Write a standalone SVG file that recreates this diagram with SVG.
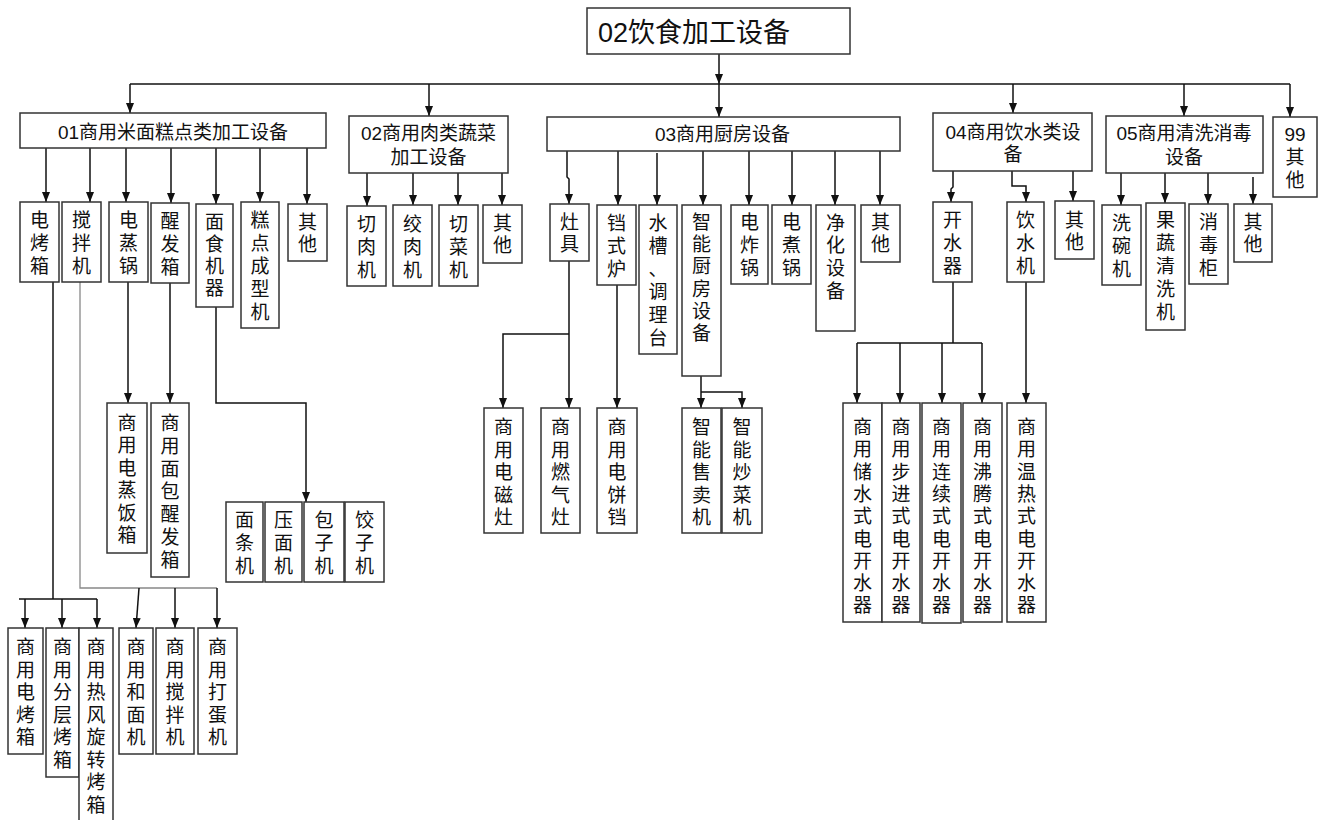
<svg xmlns="http://www.w3.org/2000/svg" width="1325" height="820" viewBox="0 0 1325 820">
<style>
.box{fill:#fff;stroke:#333;stroke-width:1.5}
.t{font-family:"Liberation Sans","Noto Sans CJK SC",sans-serif;font-size:19px;fill:#111;text-anchor:middle}
.root{font-family:"Liberation Sans","Noto Sans CJK SC",sans-serif;font-size:27px;fill:#111}
.ln{fill:none;stroke:#111;stroke-width:1.5}
.ar{fill:none;stroke:#111;stroke-width:1.5;marker-end:url(#ah)}
.gr{fill:none;stroke:#888;stroke-width:1.3}
</style>
<defs>
<marker id="ah" viewBox="0 0 10 8" refX="10" refY="4" markerWidth="10" markerHeight="8" markerUnits="userSpaceOnUse" orient="auto">
<path d="M0,0 L10,4 L0,8 z" fill="#111"/>
</marker>
</defs>
<rect width="1325" height="820" fill="#fff"/>

<g id="connectors">
<path class="ar" d="M719,54 V84"/>
<path class="ln" d="M130,84 H1290"/>
<path class="ar" d="M130,84 V113"/>
<path class="ar" d="M429,84 V116"/>
<path class="ar" d="M719,84 V117"/>
<path class="ar" d="M1013,84 V113"/>
<path class="ar" d="M1184,84 V116"/>
<path class="ar" d="M1290,84 V117"/>
<!-- 01 children -->
<path class="ar" d="M46,148 V202"/>
<path class="ar" d="M90,148 V202"/>
<path class="ar" d="M126,148 V202"/>
<path class="ar" d="M171,148 V203"/>
<path class="ar" d="M216,148 V204"/>
<path class="ar" d="M260,148 V202"/>
<path class="ar" d="M307,148 V204"/>
<!-- 02 children -->
<path class="ar" d="M367,173 V206"/>
<path class="ar" d="M413,173 V205"/>
<path class="ar" d="M458,173 V205"/>
<path class="ar" d="M502,171 V205"/>
<!-- 03 children -->
<path class="ar" d="M567,151 V177 L569,179 V204"/>
<path class="ar" d="M618,151 V205"/>
<path class="ar" d="M657,153 V205"/>
<path class="ar" d="M703,151 V205"/>
<path class="ar" d="M749,151 V205"/>
<path class="ar" d="M792,151 V205"/>
<path class="ar" d="M835,151 V205"/>
<path class="ar" d="M880,151 V205"/>
<!-- 04 children -->
<path class="ar" d="M953,171 V187 L951,189 V202"/>
<path class="ar" d="M1012,171 V186 H1026 V202"/>
<path class="ar" d="M1073,148 V201"/>
<!-- 05 children -->
<path class="ar" d="M1121,173 V205"/>
<path class="ar" d="M1165,173 V203"/>
<path class="ar" d="M1208,173 V204"/>
<path class="ar" d="M1253,177 V204"/>
<!-- 01 grandchildren -->
<path class="ln" d="M53,282 V599"/>
<path class="ln" d="M19,599 H97"/>
<path class="ar" d="M25,599 V628"/>
<path class="ar" d="M62,599 V628"/>
<path class="ar" d="M97,599 V628"/>
<path class="gr" d="M80,282 V588 H217"/>
<path class="ar" d="M139,588 L136,628"/>
<path class="ar" d="M175,588 V628"/>
<path class="ar" d="M217,588 V628"/>
<path class="ar" d="M128,282 V403"/>
<path class="ar" d="M170,283 V403"/>
<path class="ar" d="M216,307 V403 H306 V502"/>
<!-- 03 grandchildren -->
<path class="ar" d="M569,261 V408"/>
<path class="ar" d="M569,334 H503 V408"/>
<path class="ar" d="M617,285 V408"/>
<path class="ar" d="M701,376 V408"/>
<path class="ar" d="M701,392 H742 V408"/>
<!-- 04 grandchildren -->
<path class="ln" d="M953,282 V343"/>
<path class="ln" d="M857,343 H982"/>
<path class="ar" d="M857,343 V403"/>
<path class="ar" d="M900,343 V403"/>
<path class="ar" d="M942,343 V403"/>
<path class="ar" d="M982,343 V403"/>
<path class="ar" d="M1026,282 V403"/>
</g>

<g id="root">
<rect class="box" x="587" y="8" width="263" height="46"/>
<text class="root" x="598" y="42">02饮食加工设备</text>
</g>

<g id="n01">
<rect class="box" x="20" y="113" width="306" height="35"/>
<text class="t" x="173" y="139">01商用米面糕点类加工设备</text>
</g>
<g id="n02">
<rect class="box" x="349" y="116" width="159" height="57"/>
<text class="t" x="428.5" y="140">02商用肉类蔬菜</text>
<text class="t" x="428.5" y="164">加工设备</text>
</g>
<g id="n03">
<rect class="box" x="547" y="117" width="353" height="34"/>
<text class="t" x="722.5" y="141">03商用厨房设备</text>
</g>
<g id="n04">
<rect class="box" x="933" y="113" width="159" height="58"/>
<text class="t" x="1013" y="139">04商用饮水类设</text>
<text class="t" x="1013" y="161">备</text>
</g>
<g id="n05">
<rect class="box" x="1106" y="116" width="157" height="57"/>
<text class="t" x="1184" y="140">05商用清洗消毒</text>
<text class="t" x="1184" y="164">设备</text>
</g>
<g id="n99">
<rect class="box" x="1273" y="117" width="44" height="80"/>
<text class="t" x="1295" y="141">99</text>
<text class="t" x="1295" y="164">其</text>
<text class="t" x="1295" y="187">他</text>
</g>

<!-- 01 children -->
<g id="n01-1"><rect class="box" x="20" y="202" width="39" height="80"/>
<text class="t"><tspan x="39.5" y="227">电</tspan><tspan x="39.5" y="250">烤</tspan><tspan x="39.5" y="273">箱</tspan></text></g>
<g id="n01-2"><rect class="box" x="62" y="202" width="39" height="80"/>
<text class="t"><tspan x="81.5" y="227">搅</tspan><tspan x="81.5" y="250">拌</tspan><tspan x="81.5" y="273">机</tspan></text></g>
<g id="n01-3"><rect class="box" x="109" y="202" width="39" height="80"/>
<text class="t"><tspan x="128.5" y="227">电</tspan><tspan x="128.5" y="250">蒸</tspan><tspan x="128.5" y="273">锅</tspan></text></g>
<g id="n01-4"><rect class="box" x="151" y="203" width="38" height="80"/>
<text class="t"><tspan x="170" y="228">醒</tspan><tspan x="170" y="251">发</tspan><tspan x="170" y="274">箱</tspan></text></g>
<g id="n01-5"><rect class="box" x="196" y="204" width="37" height="103"/>
<text class="t"><tspan x="214.5" y="229">面</tspan><tspan x="214.5" y="251">食</tspan><tspan x="214.5" y="273">机</tspan><tspan x="214.5" y="295">器</tspan></text></g>
<g id="n01-6"><rect class="box" x="241" y="202" width="38" height="126"/>
<text class="t"><tspan x="260" y="227">糕</tspan><tspan x="260" y="250">点</tspan><tspan x="260" y="273">成</tspan><tspan x="260" y="296">型</tspan><tspan x="260" y="319">机</tspan></text></g>
<g id="n01-7"><rect class="box" x="288" y="204" width="39" height="57"/>
<text class="t"><tspan x="307.5" y="229">其</tspan><tspan x="307.5" y="251">他</tspan></text></g>

<!-- 02 children -->
<g id="n02-1"><rect class="box" x="347" y="206" width="39" height="80"/>
<text class="t"><tspan x="366.5" y="231">切</tspan><tspan x="366.5" y="254">肉</tspan><tspan x="366.5" y="277">机</tspan></text></g>
<g id="n02-2"><rect class="box" x="393" y="205" width="39" height="81"/>
<text class="t"><tspan x="412.5" y="231">绞</tspan><tspan x="412.5" y="254">肉</tspan><tspan x="412.5" y="277">机</tspan></text></g>
<g id="n02-3"><rect class="box" x="439" y="205" width="39" height="81"/>
<text class="t"><tspan x="458.5" y="231">切</tspan><tspan x="458.5" y="254">菜</tspan><tspan x="458.5" y="277">机</tspan></text></g>
<g id="n02-4"><rect class="box" x="483" y="205" width="39" height="58"/>
<text class="t"><tspan x="502.5" y="230">其</tspan><tspan x="502.5" y="252">他</tspan></text></g>

<!-- 03 children -->
<g id="n03-1"><rect class="box" x="550" y="204" width="39" height="57"/>
<text class="t"><tspan x="569.5" y="229">灶</tspan><tspan x="569.5" y="251">具</tspan></text></g>
<g id="n03-2"><rect class="box" x="597" y="205" width="39" height="80"/>
<text class="t"><tspan x="616.5" y="230">铛</tspan><tspan x="616.5" y="253">式</tspan><tspan x="616.5" y="276">炉</tspan></text></g>
<g id="n03-3"><rect class="box" x="639" y="205" width="38" height="149"/>
<text class="t"><tspan x="658" y="230">水</tspan><tspan x="658" y="253">槽</tspan><tspan x="658" y="276">、</tspan><tspan x="658" y="299">调</tspan><tspan x="658" y="322">理</tspan><tspan x="658" y="345">台</tspan></text></g>
<g id="n03-4"><rect class="box" x="682" y="205" width="39" height="171"/>
<text class="t"><tspan x="701.5" y="229">智</tspan><tspan x="701.5" y="251">能</tspan><tspan x="701.5" y="273">厨</tspan><tspan x="701.5" y="296">房</tspan><tspan x="701.5" y="318">设</tspan><tspan x="701.5" y="340">备</tspan></text></g>
<g id="n03-5"><rect class="box" x="731" y="205" width="37" height="79"/>
<text class="t"><tspan x="749.5" y="229">电</tspan><tspan x="749.5" y="252">炸</tspan><tspan x="749.5" y="275">锅</tspan></text></g>
<g id="n03-6"><rect class="box" x="772" y="205" width="39" height="79"/>
<text class="t"><tspan x="791.5" y="229">电</tspan><tspan x="791.5" y="252">煮</tspan><tspan x="791.5" y="275">锅</tspan></text></g>
<g id="n03-7"><rect class="box" x="816" y="205" width="39" height="126"/>
<text class="t"><tspan x="835.5" y="230">净</tspan><tspan x="835.5" y="252">化</tspan><tspan x="835.5" y="275">设</tspan><tspan x="835.5" y="298">备</tspan></text></g>
<g id="n03-8"><rect class="box" x="861" y="205" width="39" height="57"/>
<text class="t"><tspan x="880.5" y="229">其</tspan><tspan x="880.5" y="251">他</tspan></text></g>

<!-- 04 children -->
<g id="n04-1"><rect class="box" x="933" y="202" width="39" height="80"/>
<text class="t"><tspan x="952.5" y="227">开</tspan><tspan x="952.5" y="250">水</tspan><tspan x="952.5" y="273">器</tspan></text></g>
<g id="n04-2"><rect class="box" x="1007" y="202" width="37" height="80"/>
<text class="t"><tspan x="1025.5" y="227">饮</tspan><tspan x="1025.5" y="250">水</tspan><tspan x="1025.5" y="273">机</tspan></text></g>
<g id="n04-3"><rect class="box" x="1055" y="201" width="39" height="58"/>
<text class="t"><tspan x="1074.5" y="227">其</tspan><tspan x="1074.5" y="249">他</tspan></text></g>

<!-- 05 children -->
<g id="n05-1"><rect class="box" x="1102" y="205" width="39" height="80"/>
<text class="t"><tspan x="1121.5" y="230">洗</tspan><tspan x="1121.5" y="253">碗</tspan><tspan x="1121.5" y="276">机</tspan></text></g>
<g id="n05-2"><rect class="box" x="1146" y="203" width="39" height="127"/>
<text class="t"><tspan x="1165.5" y="227">果</tspan><tspan x="1165.5" y="250">蔬</tspan><tspan x="1165.5" y="273">清</tspan><tspan x="1165.5" y="296">洗</tspan><tspan x="1165.5" y="319">机</tspan></text></g>
<g id="n05-3"><rect class="box" x="1189" y="204" width="39" height="80"/>
<text class="t"><tspan x="1208.5" y="229">消</tspan><tspan x="1208.5" y="252">毒</tspan><tspan x="1208.5" y="275">柜</tspan></text></g>
<g id="n05-4"><rect class="box" x="1234" y="204" width="38" height="58"/>
<text class="t"><tspan x="1253" y="229">其</tspan><tspan x="1253" y="251">他</tspan></text></g>

<!-- 01 grandchildren -->
<g id="n01-3-1"><rect class="box" x="107" y="403" width="40" height="150"/>
<text class="t"><tspan x="127" y="430">商</tspan><tspan x="127" y="452">用</tspan><tspan x="127" y="475">电</tspan><tspan x="127" y="497">蒸</tspan><tspan x="127" y="520">饭</tspan><tspan x="127" y="542">箱</tspan></text></g>
<g id="n01-4-1"><rect class="box" x="151" y="403" width="38" height="174"/>
<text class="t"><tspan x="170" y="430">商</tspan><tspan x="170" y="453">用</tspan><tspan x="170" y="476">面</tspan><tspan x="170" y="498">包</tspan><tspan x="170" y="521">醒</tspan><tspan x="170" y="544">发</tspan><tspan x="170" y="567">箱</tspan></text></g>
<g id="n01-5-1"><rect class="box" x="226" y="502" width="37" height="80"/>
<text class="t"><tspan x="244.5" y="527">面</tspan><tspan x="244.5" y="550">条</tspan><tspan x="244.5" y="573">机</tspan></text></g>
<g id="n01-5-2"><rect class="box" x="265" y="502" width="37" height="80"/>
<text class="t"><tspan x="283.5" y="527">压</tspan><tspan x="283.5" y="550">面</tspan><tspan x="283.5" y="573">机</tspan></text></g>
<g id="n01-5-3"><rect class="box" x="304" y="502" width="40" height="80"/>
<text class="t"><tspan x="324" y="527">包</tspan><tspan x="324" y="550">子</tspan><tspan x="324" y="573">机</tspan></text></g>
<g id="n01-5-4"><rect class="box" x="345" y="502" width="39" height="80"/>
<text class="t"><tspan x="364.5" y="527">饺</tspan><tspan x="364.5" y="550">子</tspan><tspan x="364.5" y="573">机</tspan></text></g>

<g id="n01-1-1"><rect class="box" x="8" y="628" width="35" height="126"/>
<text class="t"><tspan x="25.5" y="654">商</tspan><tspan x="25.5" y="676.5">用</tspan><tspan x="25.5" y="699">电</tspan><tspan x="25.5" y="721.5">烤</tspan><tspan x="25.5" y="744">箱</tspan></text></g>
<g id="n01-1-2"><rect class="box" x="46" y="628" width="33" height="149"/>
<text class="t"><tspan x="62.5" y="654">商</tspan><tspan x="62.5" y="676.5">用</tspan><tspan x="62.5" y="699">分</tspan><tspan x="62.5" y="721.5">层</tspan><tspan x="62.5" y="744">烤</tspan><tspan x="62.5" y="766.5">箱</tspan></text></g>
<g id="n01-1-3"><rect class="box" x="79" y="628" width="34" height="200"/>
<text class="t"><tspan x="96" y="654">商</tspan><tspan x="96" y="676.5">用</tspan><tspan x="96" y="699">热</tspan><tspan x="96" y="721.5">风</tspan><tspan x="96" y="744">旋</tspan><tspan x="96" y="766.5">转</tspan><tspan x="96" y="789">烤</tspan><tspan x="96" y="811.5">箱</tspan></text></g>
<g id="n01-2-1"><rect class="box" x="119" y="628" width="34" height="126"/>
<text class="t"><tspan x="136" y="654">商</tspan><tspan x="136" y="676.5">用</tspan><tspan x="136" y="699">和</tspan><tspan x="136" y="721.5">面</tspan><tspan x="136" y="744">机</tspan></text></g>
<g id="n01-2-2"><rect class="box" x="156" y="628" width="38" height="126"/>
<text class="t"><tspan x="175" y="654">商</tspan><tspan x="175" y="676.5">用</tspan><tspan x="175" y="699">搅</tspan><tspan x="175" y="721.5">拌</tspan><tspan x="175" y="744">机</tspan></text></g>
<g id="n01-2-3"><rect class="box" x="198" y="628" width="39" height="126"/>
<text class="t"><tspan x="217.5" y="654">商</tspan><tspan x="217.5" y="676.5">用</tspan><tspan x="217.5" y="699">打</tspan><tspan x="217.5" y="721.5">蛋</tspan><tspan x="217.5" y="744">机</tspan></text></g>

<!-- 03 grandchildren -->
<g id="n03-1-1"><rect class="box" x="484" y="408" width="39" height="125"/>
<text class="t"><tspan x="503.5" y="434">商</tspan><tspan x="503.5" y="456.5">用</tspan><tspan x="503.5" y="479">电</tspan><tspan x="503.5" y="501.5">磁</tspan><tspan x="503.5" y="524">灶</tspan></text></g>
<g id="n03-1-2"><rect class="box" x="541" y="408" width="39" height="125"/>
<text class="t"><tspan x="560.5" y="434">商</tspan><tspan x="560.5" y="456.5">用</tspan><tspan x="560.5" y="479">燃</tspan><tspan x="560.5" y="501.5">气</tspan><tspan x="560.5" y="524">灶</tspan></text></g>
<g id="n03-2-1"><rect class="box" x="597" y="408" width="40" height="125"/>
<text class="t"><tspan x="617" y="434">商</tspan><tspan x="617" y="456.5">用</tspan><tspan x="617" y="479">电</tspan><tspan x="617" y="501.5">饼</tspan><tspan x="617" y="524">铛</tspan></text></g>
<g id="n03-4-1"><rect class="box" x="682" y="408" width="39" height="125"/>
<text class="t"><tspan x="701.5" y="434">智</tspan><tspan x="701.5" y="456.5">能</tspan><tspan x="701.5" y="479">售</tspan><tspan x="701.5" y="501.5">卖</tspan><tspan x="701.5" y="524">机</tspan></text></g>
<g id="n03-4-2"><rect class="box" x="722" y="408" width="40" height="125"/>
<text class="t"><tspan x="742" y="434">智</tspan><tspan x="742" y="456.5">能</tspan><tspan x="742" y="479">炒</tspan><tspan x="742" y="501.5">菜</tspan><tspan x="742" y="524">机</tspan></text></g>

<!-- 04 grandchildren -->
<g id="n04-1-1"><rect class="box" x="843" y="403" width="39" height="219"/>
<text class="t"><tspan x="862.5" y="434">商</tspan><tspan x="862.5" y="456.3">用</tspan><tspan x="862.5" y="478.6">储</tspan><tspan x="862.5" y="500.9">水</tspan><tspan x="862.5" y="523.2">式</tspan><tspan x="862.5" y="545.5">电</tspan><tspan x="862.5" y="567.8">开</tspan><tspan x="862.5" y="590.1">水</tspan><tspan x="862.5" y="612.4">器</tspan></text></g>
<g id="n04-1-2"><rect class="box" x="882" y="403" width="38" height="219"/>
<text class="t"><tspan x="901" y="434">商</tspan><tspan x="901" y="456.3">用</tspan><tspan x="901" y="478.6">步</tspan><tspan x="901" y="500.9">进</tspan><tspan x="901" y="523.2">式</tspan><tspan x="901" y="545.5">电</tspan><tspan x="901" y="567.8">开</tspan><tspan x="901" y="590.1">水</tspan><tspan x="901" y="612.4">器</tspan></text></g>
<g id="n04-1-3"><rect class="box" x="922" y="403" width="39" height="220"/>
<text class="t"><tspan x="941.5" y="434">商</tspan><tspan x="941.5" y="456.3">用</tspan><tspan x="941.5" y="478.6">连</tspan><tspan x="941.5" y="500.9">续</tspan><tspan x="941.5" y="523.2">式</tspan><tspan x="941.5" y="545.5">电</tspan><tspan x="941.5" y="567.8">开</tspan><tspan x="941.5" y="590.1">水</tspan><tspan x="941.5" y="612.4">器</tspan></text></g>
<g id="n04-1-4"><rect class="box" x="963" y="403" width="39" height="219"/>
<text class="t"><tspan x="982.5" y="434">商</tspan><tspan x="982.5" y="456.3">用</tspan><tspan x="982.5" y="478.6">沸</tspan><tspan x="982.5" y="500.9">腾</tspan><tspan x="982.5" y="523.2">式</tspan><tspan x="982.5" y="545.5">电</tspan><tspan x="982.5" y="567.8">开</tspan><tspan x="982.5" y="590.1">水</tspan><tspan x="982.5" y="612.4">器</tspan></text></g>
<g id="n04-2-1"><rect class="box" x="1007" y="403" width="39" height="219"/>
<text class="t"><tspan x="1026.5" y="434">商</tspan><tspan x="1026.5" y="456.3">用</tspan><tspan x="1026.5" y="478.6">温</tspan><tspan x="1026.5" y="500.9">热</tspan><tspan x="1026.5" y="523.2">式</tspan><tspan x="1026.5" y="545.5">电</tspan><tspan x="1026.5" y="567.8">开</tspan><tspan x="1026.5" y="590.1">水</tspan><tspan x="1026.5" y="612.4">器</tspan></text></g>
</svg>
